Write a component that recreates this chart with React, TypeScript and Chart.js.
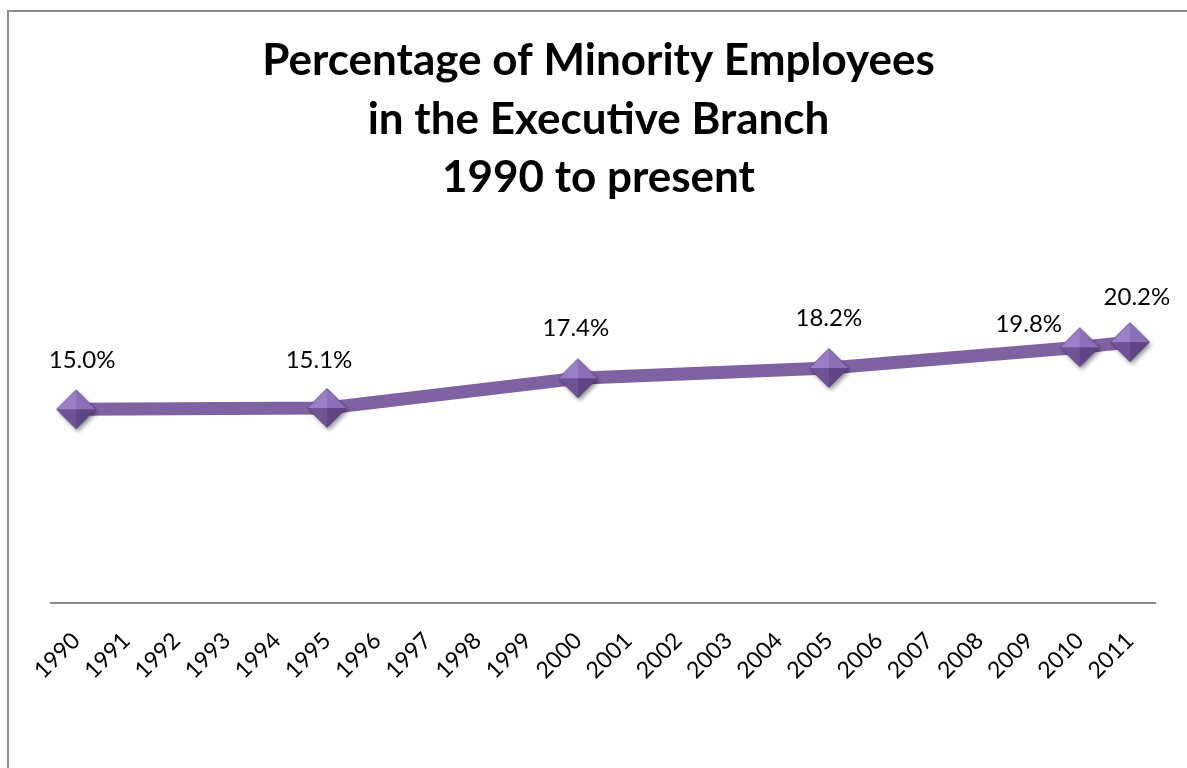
import React, { useEffect, useRef } from "react";
import { Chart, registerables } from "chart.js";

Chart.register(...registerables);

const years: string[] = [
  "1990", "1991", "1992", "1993", "1994", "1995", "1996", "1997", "1998", "1999", "2000",
  "2001", "2002", "2003", "2004", "2005", "2006", "2007", "2008", "2009", "2010", "2011",
];
const dataYears: string[] = ["1990", "1995", "2000", "2005", "2010", "2011"];
const dataValues: number[] = [15.0, 15.1, 17.4, 18.2, 19.8, 20.2];
const titleLines: string[] = [
  "Percentage of Minority Employees",
  "in the Executive Branch",
  "1990 to present",
];
// label offsets (px) relative to each point, as placed in the original
const labelOffsets: [number, number][] = [
  [6, -49],
  [-8, -48],
  [-2, -50],
  [0, -50],
  [-51, -23],
  [7, -45],
];

function makeDiamond(): HTMLCanvasElement {
  const size = 54;
  const c = 27;
  const r = 19.5;
  const cv = document.createElement("canvas");
  cv.width = size;
  cv.height = size;
  const ctx = cv.getContext("2d")!;
  const T: [number, number] = [c, c - r];
  const R: [number, number] = [c + r, c];
  const B: [number, number] = [c, c + r];
  const L: [number, number] = [c - r, c];
  const poly = (pts: [number, number][], fill: string) => {
    ctx.beginPath();
    ctx.moveTo(pts[0][0], pts[0][1]);
    for (let i = 1; i < pts.length; i++) ctx.lineTo(pts[i][0], pts[i][1]);
    ctx.closePath();
    ctx.fillStyle = fill;
    ctx.fill();
  };
  ctx.save();
  ctx.shadowColor = "rgba(0,0,0,0.4)";
  ctx.shadowOffsetX = 2;
  ctx.shadowOffsetY = 3;
  ctx.shadowBlur = 4;
  poly([T, R, B, L], "#6b4f92");
  ctx.restore();
  const C: [number, number] = [c, c];
  poly([L, T, C], "#9a80c6");
  poly([T, R, C], "#8c6fb9");
  poly([R, B, C], "#5f4586");
  poly([B, L, C], "#6f5298");
  ctx.beginPath();
  ctx.moveTo(T[0], T[1]);
  ctx.lineTo(R[0], R[1]);
  ctx.lineTo(B[0], B[1]);
  ctx.lineTo(L[0], L[1]);
  ctx.closePath();
  ctx.strokeStyle = "rgba(80,58,115,0.8)";
  ctx.lineWidth = 0.8;
  ctx.stroke();
  return cv;
}

const dataLabelPlugin = {
  id: "dataLabels",
  afterDatasetsDraw(chart: any) {
    const ctx = chart.ctx;
    const meta = chart.getDatasetMeta(0);
    ctx.save();
    ctx.font = "24px Lato";
    ctx.fillStyle = "#000";
    ctx.textAlign = "center";
    ctx.textBaseline = "middle";
    meta.data.forEach((pt: any, i: number) => {
      const v = dataValues[i];
      const off = labelOffsets[i] || [0, -48];
      ctx.fillText(v.toFixed(1) + "%", pt.x + off[0], pt.y + off[1]);
    });
    ctx.restore();
  },
};

export default function App() {
  const ref = useRef<HTMLCanvasElement>(null);
  useEffect(() => {
    if (!ref.current) return;
    const diamond = makeDiamond();
    const chart = new Chart(ref.current, {
      type: "line",
      data: {
        labels: years,
        datasets: [
          {
            data: dataYears.map((y, i) => ({ x: y, y: dataValues[i] })) as any,
            borderColor: "#7f62a1",
            borderWidth: 13,
            tension: 0,
            pointStyle: diamond as any,
            pointRadius: 19,
            pointHoverRadius: 19,
            fill: false,
          },
        ],
      },
      options: {
        responsive: false,
        animation: false,
        layout: { padding: { left: 39, right: 29, top: 0, bottom: 0 } },
        plugins: {
          legend: { display: false },
          tooltip: { enabled: false },
          title: {
            display: true,
            text: titleLines,
            color: "#000",
            font: { family: "Lato", size: 44, weight: "bold", lineHeight: 1.33 },
            padding: { top: 32, bottom: 8 },
          },
        },
        scales: {
          x: {
            type: "category",
            offset: true,
            grid: { display: false },
            border: { display: true, color: "#8c8c8c", width: 2 },
            ticks: {
              autoSkip: false,
              minRotation: 45,
              maxRotation: 45,
              color: "#000",
              padding: 16,
              font: { family: "Lato", size: 23 },
            },
            afterFit: (scale: any) => {
              scale.height = 165;
            },
          },
          y: {
            min: 0,
            max: 30,
            grid: { display: false },
            border: { display: false },
            ticks: { display: false },
            afterFit: (scale: any) => {
              scale.width = 12;
            },
          },
        },
      },
      plugins: [dataLabelPlugin],
    });
    return () => chart.destroy();
  }, []);

  return (
    <div
      style={{
        position: "fixed",
        left: 0,
        top: 0,
        width: 1187,
        height: 768,
        overflow: "hidden",
        background: "#fff",
      }}
    >
      <div
        style={{
          position: "absolute",
          left: 7,
          top: 10,
          width: 1300,
          height: 900,
          border: "2px solid #8c8c8c",
        }}
      />
      <canvas
        ref={ref}
        width={1187}
        height={768}
        style={{ position: "absolute", left: 0, top: 0, width: 1187, height: 768 }}
      />
    </div>
  );
}
